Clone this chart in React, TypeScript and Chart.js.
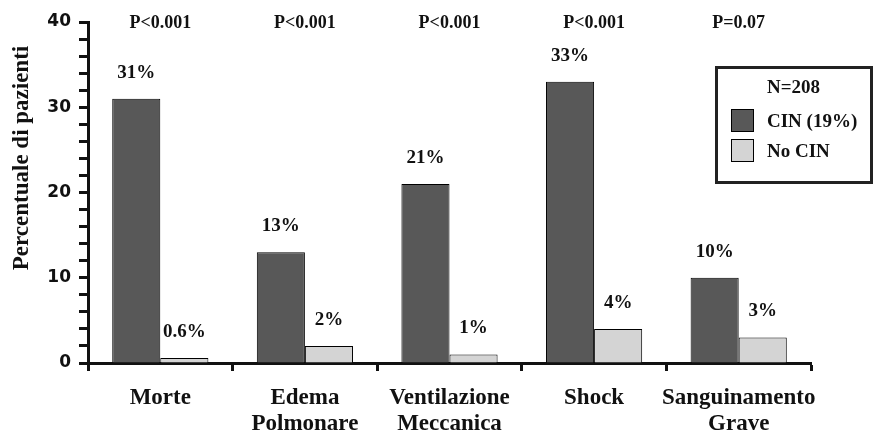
import React, { useRef, useEffect } from "react";
import { Chart, registerables } from "chart.js";

Chart.register(...registerables);

const categories = [
  ["Morte"],
  ["Edema", "Polmonare"],
  ["Ventilazione", "Meccanica"],
  ["Shock"],
  ["Sanguinamento", "Grave"],
];
const cinValues = [31, 13, 21, 33, 10];
const noCinValues = [0.6, 2, 1, 4, 3];
const pValues = ["P<0.001", "P<0.001", "P<0.001", "P<0.001", "P=0.07"];
const seriesLabels = ["CIN (19%)", "No CIN"];
const sampleLabel = "N=208";
const yTitle = "Percentuale di pazienti";
const yMax = 40;
const yTickMarks = [0, 2, 4, 6, 8, 10, 12, 14, 16, 18, 20, 22, 24, 26, 28, 30, 32, 34, 36, 38, 40];
const yTickLabels = [0, 10, 20, 30, 40];

const SERIF = "'Liberation Serif', 'Times New Roman', serif";
const TEXT = "#111";

// values over bars, p-values, rotated y title and the framed legend
const annotations = {
  id: "annotations",
  afterDatasetsDraw(chart: any) {
    const { ctx } = chart;
    const x = chart.scales.x;
    ctx.save();
    ctx.fillStyle = TEXT;
    ctx.textAlign = "center";
    ctx.textBaseline = "alphabetic";

    ctx.font = `bold 19px ${SERIF}`;
    chart.data.datasets.forEach((ds: any, di: number) => {
      chart.getDatasetMeta(di).data.forEach((bar: any, i: number) => {
        ctx.fillText(`${ds.data[i]}%`, bar.x, bar.y - 21);
      });
    });

    ctx.font = `bold 18px ${SERIF}`;
    pValues.forEach((p, i) => ctx.fillText(p, x.getPixelForValue(i), 28));

    // y title
    ctx.save();
    ctx.font = `bold 23px ${SERIF}`;
    ctx.translate(28, 158);
    ctx.rotate(-Math.PI / 2);
    ctx.fillText(yTitle, 0, 0);
    ctx.restore();

    // legend box
    ctx.lineWidth = 3;
    ctx.strokeStyle = "#222";
    ctx.strokeRect(716.5, 67.5, 155, 115);
    ctx.textAlign = "left";
    ctx.font = `bold 19px ${SERIF}`;
    ctx.fillText(sampleLabel, 767, 93);
    chart.data.datasets.forEach((ds: any, i: number) => {
      const top = 109 + i * 30;
      ctx.fillStyle = ds.backgroundColor;
      ctx.fillRect(731, top, 22, 22);
      ctx.lineWidth = 1;
      ctx.strokeStyle = "#000";
      ctx.strokeRect(731.5, top + 0.5, 22, 22);
      ctx.fillStyle = TEXT;
      ctx.fillText(ds.label, 767, top + 18);
    });
    ctx.restore();
  },
};

const CinChart: React.FC = () => {
  const chartRef = useRef<HTMLCanvasElement | null>(null);

  useEffect(() => {
    if (!chartRef.current) return;
    const ctx = chartRef.current.getContext("2d");
    if (!ctx) return;

    const chartInstance = new Chart(ctx, {
      type: "bar",
      data: {
        labels: categories,
        datasets: [
          {
            label: seriesLabels[0],
            data: cinValues,
            backgroundColor: "#585858",
            borderColor: "#000",
            borderWidth: 1,
            barPercentage: 1,
            categoryPercentage: 0.665,
          },
          {
            label: seriesLabels[1],
            data: noCinValues,
            backgroundColor: "#d4d4d4",
            borderColor: "#000",
            borderWidth: 1,
            barPercentage: 1,
            categoryPercentage: 0.665,
          },
        ],
      },
      options: {
        animation: false,
        responsive: true,
        maintainAspectRatio: false,
        layout: { padding: { top: 22, right: 63, left: 0, bottom: 0 } },
        plugins: {
          legend: { display: false },
          tooltip: { enabled: false },
        },
        scales: {
          x: {
            afterFit: (scale: any) => {
              scale.height = 73;
            },
            border: { display: true, width: 3, color: "#111" },
            grid: {
              drawOnChartArea: false,
              drawTicks: true,
              tickLength: 8,
              tickWidth: 3,
              tickColor: "#111",
            },
            ticks: {
              color: TEXT,
              autoSkip: false,
              maxRotation: 0,
              padding: 14,
              font: { family: SERIF, weight: "bold", size: 23, lineHeight: 1.13 },
            },
          },
          y: {
            min: 0,
            max: yMax,
            afterBuildTicks: (scale: any) => {
              scale.ticks = yTickMarks.map((value) => ({ value }));
            },
            afterFit: (scale: any) => {
              scale.width = 88;
            },
            border: { display: true, width: 3, color: "#111" },
            grid: {
              drawOnChartArea: false,
              drawTicks: true,
              tickLength: 9,
              tickWidth: 3,
              tickColor: "#111",
            },
            ticks: {
              autoSkip: false,
              padding: 8,
              color: TEXT,
              font: { family: "'DejaVu Sans', sans-serif", weight: "bold", size: 17 },
              callback: (v: any) => (yTickLabels.includes(Number(v)) ? String(v) : ""),
            },
          },
        },
      },
      plugins: [annotations],
    });

    return () => {
      chartInstance.destroy();
    };
  }, []);

  return (
    <div
      style={{
        position: "absolute",
        left: 0,
        top: 0,
        width: 874,
        height: 436,
        background: "#fff",
      }}
    >
      <canvas ref={chartRef} />
    </div>
  );
};

export default CinChart;
